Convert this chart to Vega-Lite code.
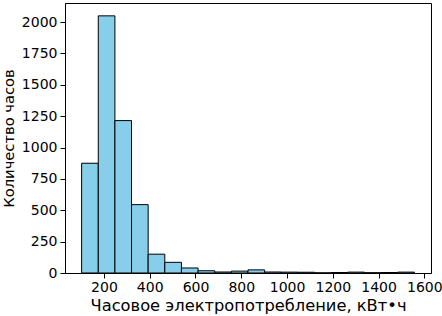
{
  "$schema": "https://vega.github.io/schema/vega-lite/v6.json",
  "width": 366,
  "height": 270,
  "autosize": "none",
  "padding": {"left": 65, "top": 3, "right": 11, "bottom": 43},
  "background": "white",
  "config": {
    "view": {"stroke": "black", "strokeWidth": 1},
    "font": "DejaVu Sans",
    "axis": {
      "grid": false,
      "domainColor": "black",
      "tickColor": "black",
      "tickSize": 5,
      "labelColor": "black",
      "titleColor": "black",
      "labelFont": "DejaVu Sans",
      "titleFont": "DejaVu Sans",
      "labelFontSize": 14,
      "titleFontWeight": "normal"
    }
  },
  "data": {
    "values": [
      {"b0": 102.5, "b1": 175.2, "n": 875},
      {"b0": 175.2, "b1": 247.9, "n": 2050},
      {"b0": 247.9, "b1": 320.5, "n": 1215},
      {"b0": 320.5, "b1": 393.2, "n": 545},
      {"b0": 393.2, "b1": 465.9, "n": 150},
      {"b0": 465.9, "b1": 538.6, "n": 85},
      {"b0": 538.6, "b1": 611.3, "n": 40},
      {"b0": 611.3, "b1": 684.0, "n": 18},
      {"b0": 684.0, "b1": 756.7, "n": 8},
      {"b0": 756.7, "b1": 829.4, "n": 15},
      {"b0": 829.4, "b1": 902.0, "n": 25},
      {"b0": 902.0, "b1": 974.7, "n": 8},
      {"b0": 974.7, "b1": 1047.4, "n": 7},
      {"b0": 1047.4, "b1": 1120.0, "n": 6},
      {"b0": 1120.0, "b1": 1192.8, "n": 1},
      {"b0": 1192.8, "b1": 1265.5, "n": 4},
      {"b0": 1265.5, "b1": 1338.2, "n": 7},
      {"b0": 1338.2, "b1": 1410.9, "n": 2},
      {"b0": 1410.9, "b1": 1483.6, "n": 4},
      {"b0": 1483.6, "b1": 1556.3, "n": 7}
    ]
  },
  "mark": {"type": "rect", "fill": "#87CEEB", "stroke": "black", "strokeWidth": 1},
  "encoding": {
    "x": {
      "field": "b0",
      "type": "quantitative",
      "scale": {"domain": [29.8, 1629], "nice": false, "zero": false},
      "axis": {"values": [200, 400, 600, 800, 1000, 1200, 1400, 1600], "format": "d", "title": "Часовое электропотребление, кВт•ч", "titleFontSize": 16.3, "labelPadding": 2, "titlePadding": 3}
    },
    "x2": {"field": "b1"},
    "y": {
      "field": "n",
      "type": "quantitative",
      "scale": {"domain": [0, 2152.5], "nice": false},
      "axis": {"values": [0, 250, 500, 750, 1000, 1250, 1500, 1750, 2000], "format": "d", "title": "Количество часов", "titleFontSize": 14.7, "labelPadding": 3, "titlePadding": 5}
    },
    "y2": {"datum": 0}
  }
}
